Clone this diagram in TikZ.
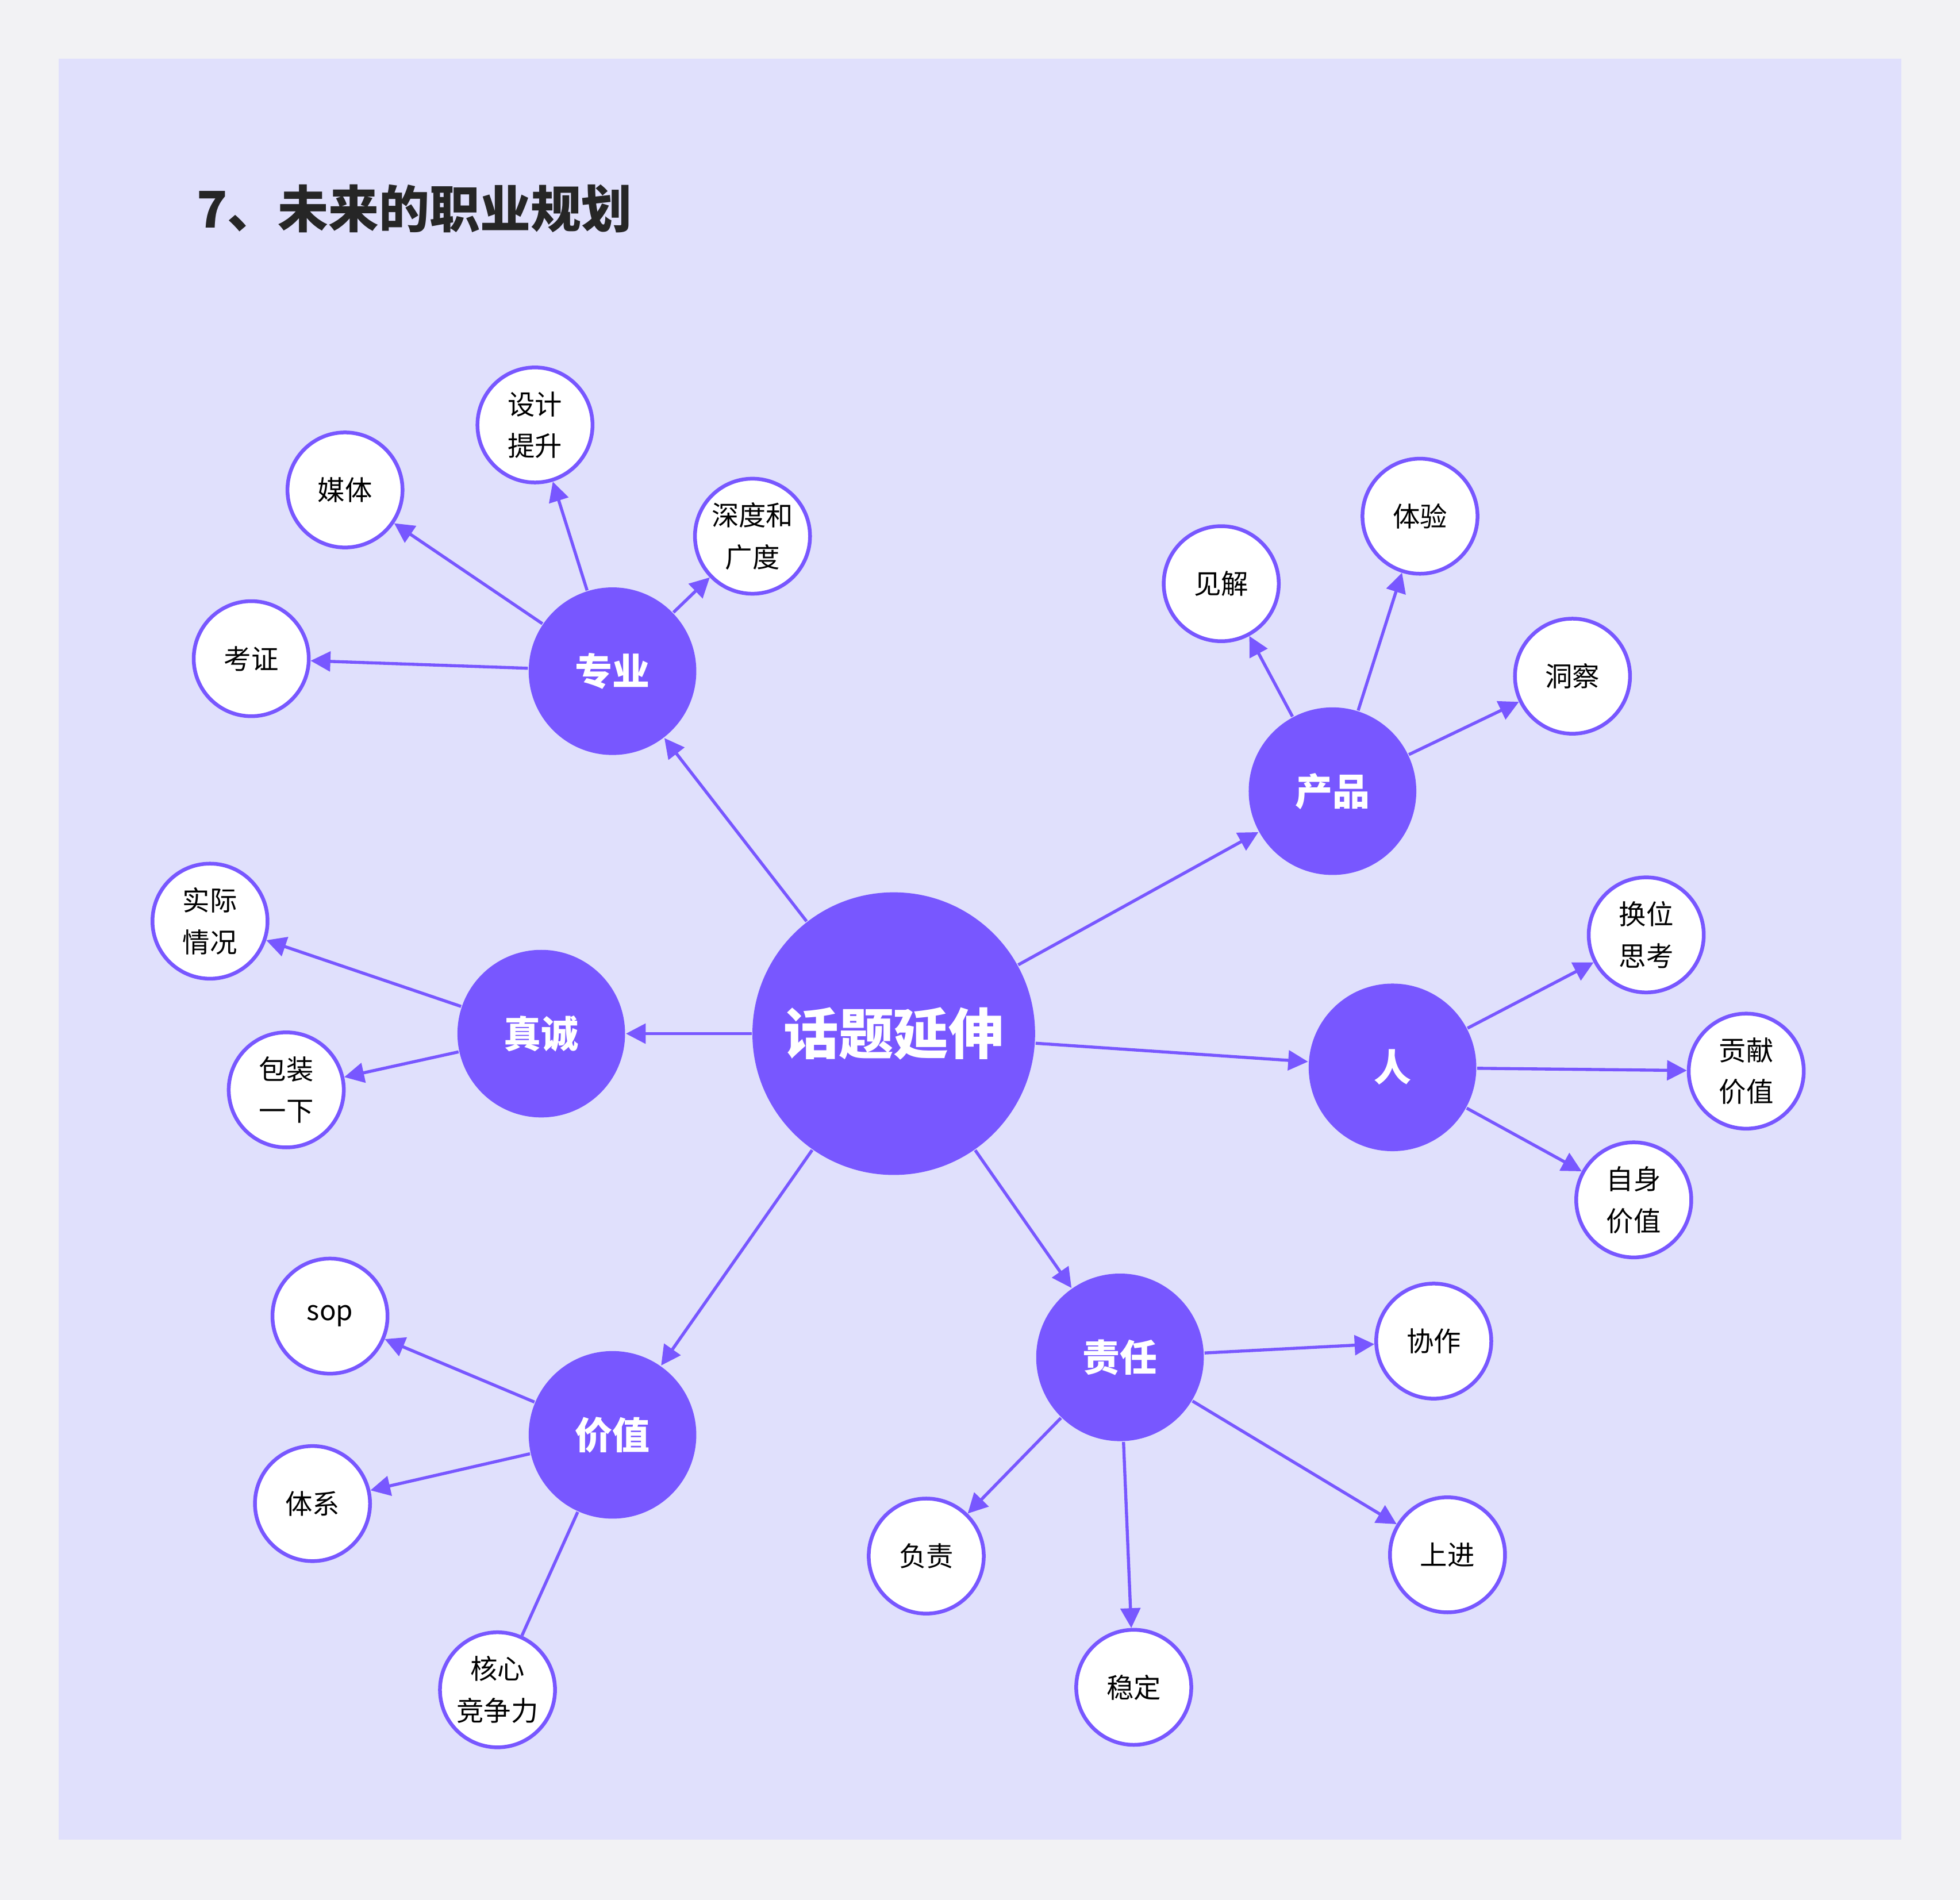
\documentclass[tikz,border=0pt]{standalone}
\usepackage{fontspec}
\setmainfont{Noto Sans CJK SC}
\usetikzlibrary{arrows.meta}
\definecolor{pur}{HTML}{7857FF}
\definecolor{panel}{HTML}{E0E0FC}
\definecolor{outer}{HTML}{F2F2F4}
\tikzset{
 hub/.style={circle,fill=pur,text=white,font=\fontsize{8.5}{10}\selectfont\bfseries,minimum size=1.34cm,inner sep=0pt},
 leaf/.style={circle,fill=white,draw=pur,line width=0.85pt,font=\fontsize{6.2}{9.5}\selectfont,minimum size=0.92cm,inner sep=0pt,align=center},
 conn/.style={pur,line width=0.7pt,-{Triangle[length=4.5pt,width=4.5pt]}},
 plain/.style={pur,line width=0.7pt}
}
\begin{document}
\begin{tikzpicture}[x=0.01cm,y=-0.01cm]
\fill[outer] (0,0) rectangle (1568,1520);
\useasboundingbox (0,0) rectangle (1568,1520);
\fill[panel] (47,47) rectangle (1521,1472);
\node[anchor=west,font=\fontsize{11.5}{13}\selectfont\bfseries,text=black!85] (title) at (145,167) {7、未来的职业规划};
\node[hub,minimum size=2.26cm,font=\fontsize{12.5}{14}\selectfont\bfseries] (c) at (715,827) {话题延伸};
\node[hub] (zy) at (490,537) {专业};
\node[hub] (cp) at (1066,633) {产品};
\node[hub] (zc) at (433,827) {真诚};
\node[hub] (r) at (1114,854) {人};
\node[hub] (jz) at (490,1148) {价值};
\node[hub] (zr) at (896,1086) {责任};
\node[leaf] (a1) at (428,340) {设计\\提升};
\node[leaf] (a2) at (276,392) {媒体};
\node[leaf] (a3) at (602,429) {深度和\\广度};
\node[leaf] (a4) at (201,527) {考证};
\node[leaf] (b1) at (977,467) {见解};
\node[leaf] (b2) at (1136,413) {体验};
\node[leaf] (b3) at (1258,541) {洞察};
\node[leaf] (d1) at (168,737) {实际\\情况};
\node[leaf] (d2) at (229,872) {包装\\一下};
\node[leaf] (e1) at (1317,748) {换位\\思考};
\node[leaf] (e2) at (1397,857) {贡献\\价值};
\node[leaf] (e3) at (1307,960) {自身\\价值};
\node[leaf] (f1) at (264,1053) {sop};
\node[leaf] (f2) at (250,1203) {体系};
\node[leaf] (f3) at (398,1352) {核心\\竞争力};
\node[leaf] (g1) at (1147,1073) {协作};
\node[leaf] (g2) at (741,1245) {负责};
\node[leaf] (g3) at (1158,1244) {上进};
\node[leaf] (g4) at (907,1350) {稳定};
\foreach \h in {zy,cp,zc,r,jz,zr} \draw[conn] (c) -- (\h);
\foreach \l in {a1,a2,a3,a4} \draw[conn] (zy) -- (\l);
\foreach \l in {b1,b2,b3} \draw[conn] (cp) -- (\l);
\foreach \l in {d1,d2} \draw[conn] (zc) -- (\l);
\foreach \l in {e1,e2,e3} \draw[conn] (r) -- (\l);
\foreach \l in {f1,f2} \draw[conn] (jz) -- (\l);
\draw[plain] (jz) -- (f3);
\foreach \l in {g1,g2,g3,g4} \draw[conn] (zr) -- (\l);
\end{tikzpicture}
\end{document}
